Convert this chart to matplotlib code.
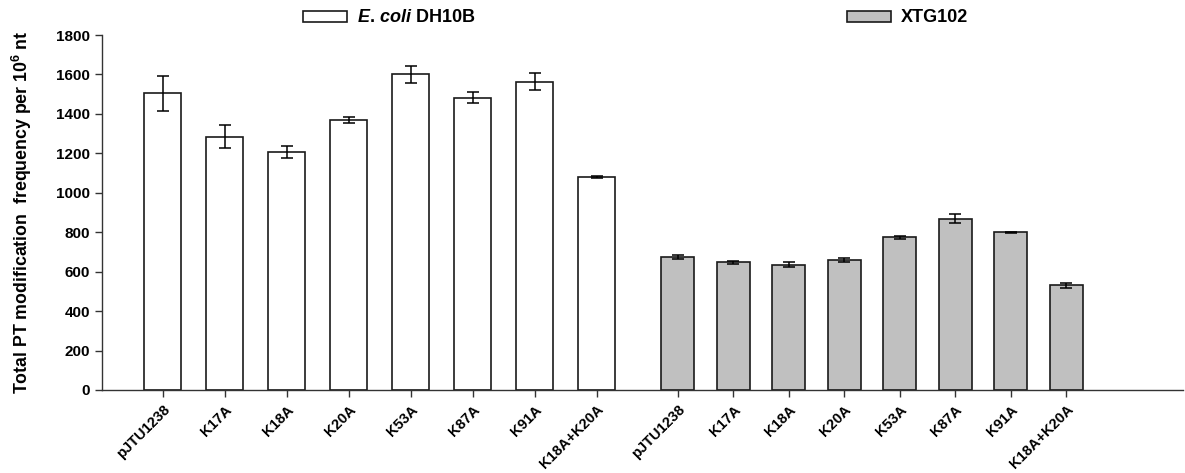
import matplotlib
import matplotlib.pyplot as plt
from matplotlib.patches import Patch

matplotlib.use("Agg")
plt.rcParams["font.family"] = ["Liberation Sans", "DejaVu Sans"]
plt.rcParams["font.weight"] = "bold"
plt.rcParams["mathtext.fontset"] = "custom"
plt.rcParams["mathtext.rm"] = "Liberation Sans:bold"
plt.rcParams["mathtext.bf"] = "Liberation Sans:bold"
plt.rcParams["mathtext.it"] = "Liberation Sans:italic:bold"

# Data
strains = ["pJTU1238", "K17A", "K18A", "K20A", "K53A", "K87A", "K91A", "K18A+K20A"]
dh10b_vals = [1505, 1285, 1208, 1368, 1600, 1483, 1562, 1080]
dh10b_err = [88, 60, 30, 15, 45, 28, 43, 7]
xtg_vals = [673, 647, 635, 658, 775, 868, 800, 530]
xtg_err = [10, 8, 12, 10, 8, 22, 3, 13]

# Layout (x positions in pixel-like units, two groups with different spacing)
left_pos = [163 + 62 * i for i in range(len(strains))]
right_pos = [678 + 55.5 * i for i in range(len(strains))]

fig = plt.figure(figsize=(11.85, 4.73), dpi=100)
ax = fig.add_axes([0.086, 0.1755, 0.912, 0.7505])

edge = "#1a1a1a"
ekw = dict(elinewidth=1.1, capthick=1.1, ecolor="black")
ax.bar(left_pos, dh10b_vals, width=37, color="white", edgecolor=edge, linewidth=1.2,
       yerr=dh10b_err, capsize=4, error_kw=ekw)
ax.bar(right_pos, xtg_vals, width=33, color="#c0c0c0", edgecolor=edge, linewidth=1.2,
       yerr=xtg_err, capsize=4, error_kw=ekw)

ax.set_xlim(102, 1183)
ax.set_ylim(0, 1800)
ax.set_yticks(range(0, 1801, 200))
ax.set_xticks(left_pos + right_pos)
ax.set_xticklabels(strains + strains, rotation=45, ha="right", rotation_mode="anchor",
                   fontsize=10.5, fontweight="bold")
for lab in ax.get_yticklabels():
    lab.set_fontsize(11)
    lab.set_fontweight("bold")

ax.spines["top"].set_visible(False)
ax.spines["right"].set_visible(False)
for s in ("left", "bottom"):
    ax.spines[s].set_color("#333333")
    ax.spines[s].set_linewidth(1.0)
ax.tick_params(axis="both", direction="out", length=5, width=1.0, color="#333333")
ax.tick_params(axis="x", pad=4)

ax.set_ylabel("Total PT modification  frequency per 10$^{6}$ nt",
              fontsize=12.75, fontweight="bold", labelpad=16)

# Legends
h1 = Patch(facecolor="white", edgecolor=edge, linewidth=1.2)
h2 = Patch(facecolor="#c0c0c0", edgecolor=edge, linewidth=1.2)
common = dict(loc="center left", frameon=False, fontsize=13, borderpad=0,
              handlelength=2.44, handleheight=0.55, handletextpad=0.55)
leg1 = fig.legend([h1], ["$\\mathit{E.\\,coli}$ DH10B"], bbox_to_anchor=(0.248, 0.962), **common)
leg2 = fig.legend([h2], ["XTG102"], bbox_to_anchor=(0.7072, 0.962), **common)
for leg in (leg1, leg2):
    for t in leg.get_texts():
        t.set_fontweight("bold")

fig.savefig("out.png", dpi=100)
plt.close(fig)
